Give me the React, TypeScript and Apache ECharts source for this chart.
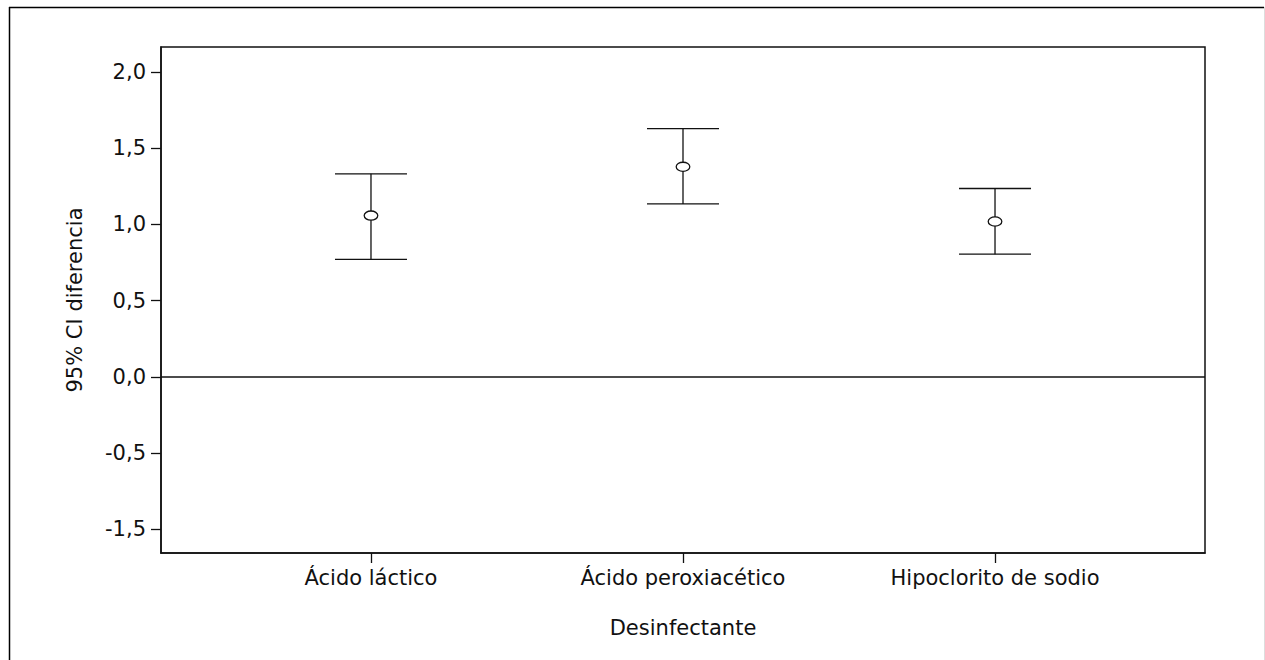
import React, { useEffect, useRef } from "react";
import * as echarts from "echarts";

const categories = ["Ácido láctico", "Ácido peroxiacético", "Hipoclorito de sodio"];
const means = [1.058, 1.378, 1.019];
const lowers = [0.771, 1.135, 0.805];
const uppers = [1.332, 1.629, 1.236];
const yTickValues = [-1, -0.5, 0, 0.5, 1, 1.5, 2];
const yTickLabels = ["-1,5", "-0,5", "0,0", "0,5", "1,0", "1,5", "2,0"];

const FONT = "DejaVu Sans";
const FS = 21;

export default function App() {
  const ref = useRef<HTMLDivElement>(null);
  useEffect(() => {
    if (!ref.current) return;
    const chart = echarts.init(ref.current, null, { renderer: "svg" });
    const data = categories.map((_, i) => [i, means[i], lowers[i], uppers[i]]);
    chart.setOption({
      animation: false,
      backgroundColor: "#ffffff",
      textStyle: { fontFamily: FONT },
      graphic: [
        { type: "line", shape: { x1: 9, y1: 7.5, x2: 1264, y2: 7.5 }, style: { stroke: "#000", lineWidth: 1.5 }, silent: true },
        { type: "line", shape: { x1: 9.5, y1: 7, x2: 9.5, y2: 660 }, style: { stroke: "#000", lineWidth: 1.5 }, silent: true },
        { type: "line", shape: { x1: 1264.5, y1: 7, x2: 1264.5, y2: 660 }, style: { stroke: "#dddddd", lineWidth: 1 }, silent: true },
      ],
      grid: {
        left: 161,
        top: 47,
        right: 60,
        bottom: 107,
        show: true,
        borderColor: "#111",
        borderWidth: 1.5,
        backgroundColor: "transparent",
      },
      xAxis: {
        type: "value",
        min: -0.673,
        max: 2.673,
        name: "Desinfectante",
        nameLocation: "middle",
        nameGap: 64,
        nameTextStyle: { fontFamily: FONT, fontSize: FS, color: "#111" },
        axisLine: { show: true, onZero: false, lineStyle: { color: "#111", width: 1.5 } },
        splitLine: { show: false },
        axisTick: { show: true, inside: false, customValues: [0, 1, 2], length: 10, lineStyle: { color: "#111", width: 1.3 } },
        axisLabel: {
          customValues: [0, 1, 2],
          formatter: (v: number) => categories[Math.round(v)] ?? "",
          fontFamily: FONT,
          fontSize: FS,
          color: "#111",
          margin: 14,
        },
      },
      yAxis: {
        type: "value",
        min: -1.155,
        max: 2.164,
        name: "95% CI diferencia",
        nameLocation: "middle",
        nameGap: 76,
        nameTextStyle: { fontFamily: FONT, fontSize: FS, color: "#111" },
        axisLine: { show: true, onZero: false, lineStyle: { color: "#111", width: 1.5 } },
        splitLine: { show: false },
        axisTick: { show: true, inside: false, customValues: yTickValues, length: 10, lineStyle: { color: "#111", width: 1.3 } },
        axisLabel: {
          customValues: yTickValues,
          formatter: (v: number) => {
            const idx = yTickValues.findIndex((t) => Math.abs(t - v) < 1e-6);
            return idx >= 0 ? yTickLabels[idx] : "";
          },
          fontFamily: FONT,
          fontSize: FS,
          color: "#111",
          margin: 15,
        },
      },
      series: [
        {
          type: "custom",
          data,
          encode: { x: 0, y: [1, 2, 3] },
          renderItem: (params: any, api: any) => {
            const x = api.value(0);
            const m = api.coord([x, api.value(1)]);
            const lo = api.coord([x, api.value(2)]);
            const hi = api.coord([x, api.value(3)]);
            const hw = 36;
            const stroke = { stroke: "#111", lineWidth: 1.3 };
            return {
              type: "group",
              children: [
                { type: "line", shape: { x1: hi[0], y1: hi[1], x2: lo[0], y2: lo[1] }, style: stroke },
                { type: "line", shape: { x1: hi[0] - hw, y1: hi[1], x2: hi[0] + hw, y2: hi[1] }, style: stroke },
                { type: "line", shape: { x1: lo[0] - hw, y1: lo[1], x2: lo[0] + hw, y2: lo[1] }, style: stroke },
                { type: "ellipse", shape: { cx: m[0], cy: m[1], rx: 6.8, ry: 4.6 }, style: { fill: "#fff", stroke: "#111", lineWidth: 1.3 } },
              ],
            };
          },
          markLine: {
            silent: true,
            symbol: "none",
            label: { show: false },
            lineStyle: { color: "#111", width: 1.5, type: "solid" },
            data: [{ yAxis: 0 }],
          },
          z: 3,
        },
      ],
    });
    return () => chart.dispose();
  }, []);
  return <div ref={ref} style={{ position: "fixed", left: 0, top: 0, width: 1265, height: 660 }} />;
}
